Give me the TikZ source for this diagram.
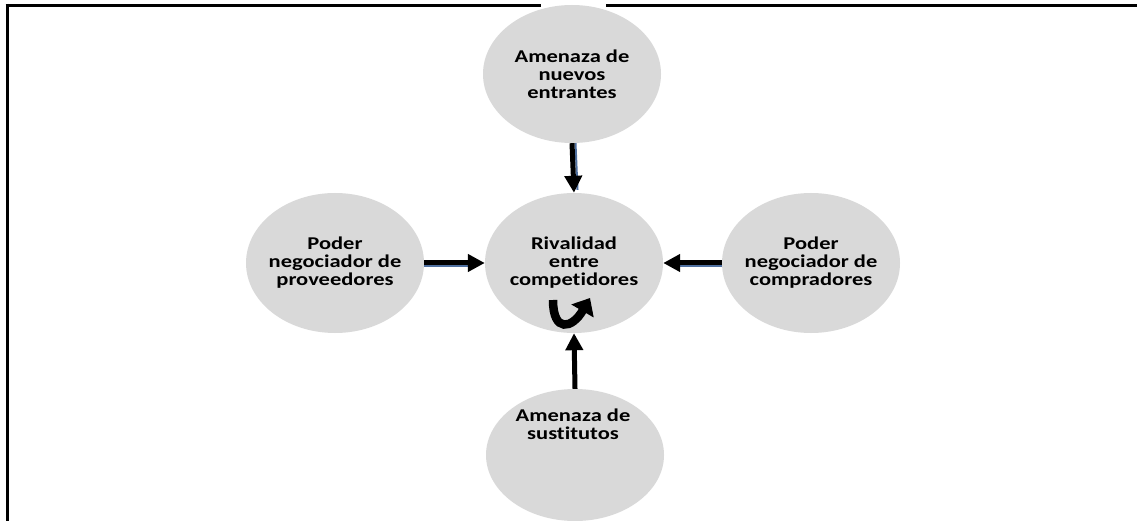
\documentclass[tikz,border=0pt]{standalone}
\usepackage{fontspec}
\setmainfont{Carlito}[FakeStretch=1.25,Ligatures=NoCommon]
\usetikzlibrary{shapes.geometric,arrows.meta}
\definecolor{ellgray}{RGB}{217,217,217}
\definecolor{shadowblue}{RGB}{79,112,160}
\tikzset{
  force/.style={ellipse, fill=ellgray, minimum width=178pt, minimum height=140pt,
    inner xsep=-30pt, inner ysep=0pt, align=center, font=\fontsize{18}{18}\selectfont\bfseries},
  lbl/.style={align=center, font=\fontsize{18}{18}\selectfont\bfseries},
  arr/.style={line width=5pt, -{Triangle[length=17pt,width=17pt]}},
  shade/.style={line width=2pt, shadowblue},
  frame/.style={line width=3.6pt, black}
}
\begin{document}
\begin{tikzpicture}[x=1pt,y=-1pt]
\useasboundingbox (0,0) rectangle (1137,521);
\fill[white] (0,0) rectangle (1137,521);
% frame
\coordinate (f1) at (5.7,5.5);
\coordinate (f2) at (541,5.5);
\coordinate (f3) at (606,5.5);
\coordinate (f4) at (1137,5.5);
\coordinate (f5) at (7.5,4);
\coordinate (f6) at (7.5,521);
\draw[frame] (f1) -- (f2);
\draw[frame] (f3) -- (f4);
\draw[frame] (f5) -- (f6);
% ellipses
\node[force, minimum height=138pt] (top) at (572,74) {Amenaza de\\nuevos\\entrantes};
\node[force] (ctr) at (574,263) {Rivalidad\\entre\\competidores};
\node[force] (lft) at (335,263) {Poder\\negociador de\\proveedores};
\node[force] (rgt) at (811,263) {Poder\\negociador de\\compradores};
\node[force, minimum height=132pt] (bot) at (575,455) {};
\node[lbl] (botlbl) at (573,424) {Amenaza de\\sustitutos};
% shadows
\draw[shade] ([xshift=3.5pt]top.south) -- ([xshift=3.5pt,yshift=3pt]ctr.north);
\draw[shade] ([yshift=-3.5pt]lft.east) -- ([yshift=-3.5pt,xshift=-12pt]ctr.west);
\draw[shade] ([yshift=-3.5pt]rgt.west) -- ([yshift=-3.5pt,xshift=12pt]ctr.east);
\draw[shade] ([xshift=1pt,yshift=-3pt]ctr.south) -- ++(0,4);
% arrows
\draw[arr] (top.south) -- (ctr.north);
\draw[arr] (lft.east) -- (ctr.west);
\draw[arr] (rgt.west) -- (ctr.east);
\draw[arr] (bot.north) -- (ctr.south);
% rivalry circular arrow
\coordinate (c1) at ([shift={(-21,37)}]ctr.center);
\coordinate (c2) at ([shift={(16,35)}]ctr.center);
\draw[line width=8.5pt, -{Triangle[length=15pt,width=25pt]}]
  (c1) .. controls ([shift={(-21,70)}]ctr.center) and ([shift={(-2,66)}]ctr.center) .. (c2);
\end{tikzpicture}
\end{document}
